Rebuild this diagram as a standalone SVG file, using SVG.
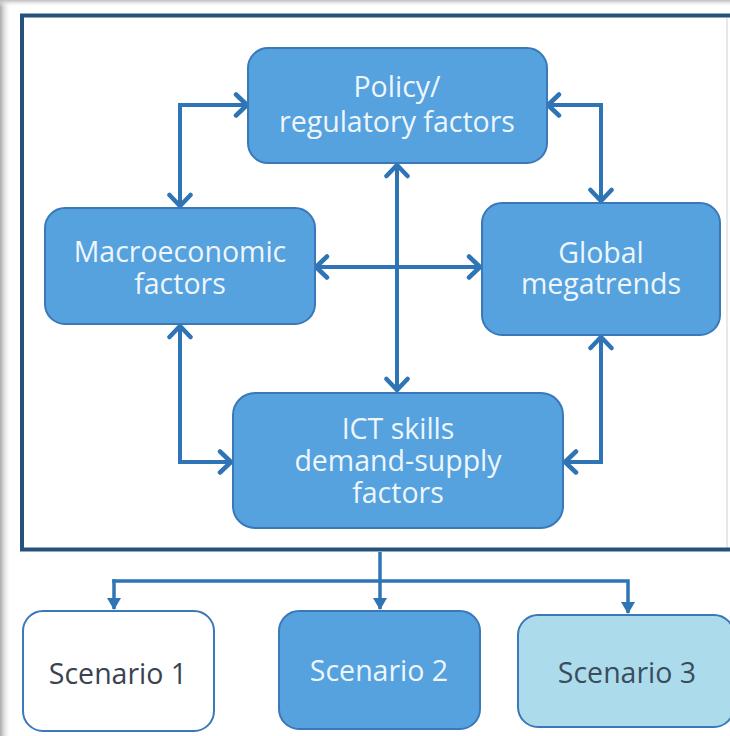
<svg xmlns="http://www.w3.org/2000/svg" width="730" height="736" viewBox="0 0 730 736">
<defs>
<linearGradient id="shL" x1="0" y1="0" x2="1" y2="0">
<stop offset="0" stop-color="#a9a9a9"/><stop offset="1" stop-color="#ffffff" stop-opacity="0"/>
</linearGradient>
<linearGradient id="shT" x1="0" y1="0" x2="0" y2="1">
<stop offset="0" stop-color="#bdbdbd"/><stop offset="1" stop-color="#ffffff" stop-opacity="0"/>
</linearGradient>
<marker id="chev" viewBox="0 0 16 26" refX="14" refY="13" markerWidth="16" markerHeight="26" markerUnits="userSpaceOnUse" orient="auto-start-reverse">
<path d="M3,2.5 L14,13 L3,23.5" fill="none" stroke="#2f74b5" stroke-width="4.5" stroke-linecap="round" stroke-linejoin="round"/>
</marker>
<marker id="tri" viewBox="0 0 12 14" refX="11" refY="7" markerWidth="12" markerHeight="14" markerUnits="userSpaceOnUse" orient="auto">
<path d="M0,0 L12,7 L0,14 Z" fill="#2f74b5"/>
</marker>
<style>
.node{fill:#55a2df;stroke:#3a78b8;stroke-width:2}
.t{font-family:"Open Sans","Noto Sans","DejaVu Sans",sans-serif;font-size:28.5px;text-anchor:middle;fill:#eef6fc}
.c{fill:none;stroke:#2f74b5;stroke-width:4;stroke-linejoin:miter}
.cb{fill:none;stroke:#2f74b5;stroke-width:3.5}
</style>
</defs>
<rect x="0" y="0" width="730" height="736" fill="#ffffff"/>
<rect x="0" y="0" width="11" height="736" fill="url(#shL)"/>
<rect x="0" y="0" width="730" height="7" fill="url(#shT)"/>
<line x1="727" y1="18" x2="727" y2="548" stroke="#dde2e8" stroke-width="1.5"/>
<rect id="frame" x="22" y="15.5" width="712" height="534" fill="none" stroke="#25517d" stroke-width="4"/>

<g id="connectors">
<path class="c" d="M247,105 L180,105 L180,206" marker-start="url(#chev)" marker-end="url(#chev)"/>
<path class="c" d="M548,105 L601,105 L601,201" marker-start="url(#chev)" marker-end="url(#chev)"/>
<path class="c" d="M397,165 L397,390" marker-start="url(#chev)" marker-end="url(#chev)"/>
<path class="c" d="M316,267 L480,267" marker-start="url(#chev)" marker-end="url(#chev)"/>
<path class="c" d="M180,326 L180,462 L231,462" marker-start="url(#chev)" marker-end="url(#chev)"/>
<path class="c" d="M601,337 L601,462 L565,462" marker-start="url(#chev)" marker-end="url(#chev)"/>
<path class="cb" d="M380,552 L380,609" marker-end="url(#tri)"/>
<path class="cb" d="M112.25,581 L628,581 L628,613" marker-end="url(#tri)"/>
<path class="cb" d="M114,579.25 L114,609" marker-end="url(#tri)"/>
</g>

<g id="policy">
<rect class="node" x="248" y="48" width="299" height="115" rx="20"/>
<text class="t" x="397" y="97">Policy/</text>
<text class="t" x="397" y="132">regulatory factors</text>
</g>
<g id="macro">
<rect class="node" x="45" y="208" width="270" height="116" rx="20"/>
<text class="t" x="180" y="262">Macroeconomic</text>
<text class="t" x="180" y="294">factors</text>
</g>
<g id="global">
<rect class="node" x="482" y="203" width="238" height="132" rx="20"/>
<text class="t" x="601" y="263">Global</text>
<text class="t" x="601" y="294">megatrends</text>
</g>
<g id="ict">
<rect class="node" x="233" y="393" width="330" height="135" rx="22"/>
<text class="t" x="398" y="439">ICT skills</text>
<text class="t" x="398" y="471">demand-supply</text>
<text class="t" x="398" y="503">factors</text>
</g>
<g id="scenario1">
<rect x="23" y="611" width="191" height="120" rx="20" fill="#ffffff" stroke="#3a78b8" stroke-width="2"/>
<text class="t" x="118" y="684" style="fill:#3a4350">Scenario 1</text>
</g>
<g id="scenario2">
<rect class="node" x="279" y="611" width="201" height="118" rx="20"/>
<text class="t" x="379" y="681">Scenario 2</text>
</g>
<g id="scenario3">
<rect x="518" y="615" width="216" height="112" rx="20" fill="#acdcec" stroke="#3a78b8" stroke-width="2"/>
<text class="t" x="627" y="683" style="fill:#3b4d5c">Scenario 3</text>
</g>
</svg>
